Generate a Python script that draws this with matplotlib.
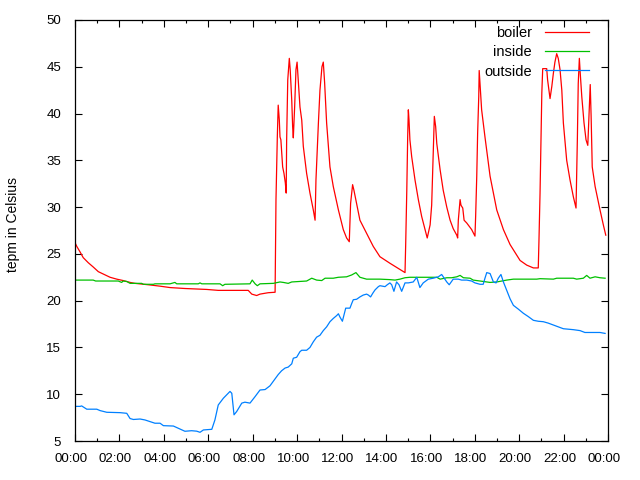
import matplotlib
matplotlib.use("Agg")
import matplotlib.pyplot as plt
import matplotlib.transforms as mtransforms
from matplotlib.ticker import FixedLocator, MultipleLocator

# hours since midnight, temperature in Celsius
boiler_t = [0.00, 0.08, 0.23, 0.37, 0.60, 0.82, 1.05, 1.27, 1.58, 1.88, 2.17, 2.48, 2.70,
            3.30, 3.83, 4.28, 4.95, 5.93, 6.45, 7.80, 7.96, 8.18, 8.33, 8.70, 9.01,
            9.05, 9.11, 9.15, 9.20, 9.23, 9.27, 9.35, 9.41, 9.47, 9.51, 9.53, 9.58,
            9.65, 9.69, 9.76, 9.80, 9.83, 9.89, 9.95, 10.00, 10.05, 10.13, 10.21, 10.28,
            10.43, 10.58, 10.73, 10.81, 10.85, 10.96, 11.03, 11.12, 11.18, 11.24, 11.33,
            11.48, 11.63, 11.86, 12.08, 12.23, 12.35, 12.41, 12.50, 12.56, 12.68, 12.83,
            13.13, 13.43, 13.73, 14.18, 14.86, 14.89, 14.94, 14.98, 15.01, 15.04, 15.08,
            15.16, 15.31, 15.46, 15.61, 15.76, 15.86, 15.99, 16.06, 16.11, 16.18, 16.24,
            16.29, 16.44, 16.58, 16.74, 16.89, 17.03, 17.19, 17.23, 17.26, 17.34, 17.38,
            17.46, 17.52, 17.64, 17.86, 18.01, 18.04, 18.09, 18.13, 18.18, 18.20, 18.31,
            18.46, 18.69, 18.99, 19.29, 19.59, 20.04, 20.34, 20.64, 20.86, 20.89, 20.94,
            20.98, 21.02, 21.06, 21.24, 21.28, 21.34, 21.39, 21.47, 21.54, 21.61, 21.69,
            21.76, 21.84, 21.92, 21.99, 22.14, 22.29, 22.44, 22.56, 22.62, 22.66, 22.71,
            22.75, 22.82, 22.92, 23.01, 23.09, 23.15, 23.20, 23.24, 23.29, 23.42, 23.64,
            23.79, 23.90]
boiler = [26.2, 25.8, 25.2, 24.6, 24.05, 23.6, 23.1, 22.85, 22.5, 22.3, 22.15, 21.95, 21.85,
          21.7, 21.55, 21.4, 21.3, 21.2, 21.1, 21.1, 20.7, 20.55, 20.7, 20.85, 20.9,
          30.8, 37.5, 40.9, 39.3, 37.5, 37.2, 34.3, 33.6, 32.6, 31.5, 37.2, 43.6,
          45.9, 44.7, 41.4, 38.6, 37.4, 40.7, 44.7, 45.5, 43.6, 40.7, 39.3, 36.5,
          33.6, 31.5, 29.7, 28.6, 32.9, 39.0, 42.5, 45.0, 45.5, 43.3, 39.0,
          34.3, 32.2, 29.7, 27.6, 26.7, 26.3, 30.4, 32.4, 31.8, 30.4, 28.6,
          27.2, 25.8, 24.7, 24.0, 23.0, 26.0, 31.8, 37.5, 40.4, 39.3, 37.2,
          35.4, 32.9, 30.8, 29.0, 27.6, 26.7, 28.1, 30.2, 34.3, 39.7, 38.6,
          36.8, 34.0, 31.8, 30.0, 28.6, 27.7, 27.0, 26.7, 28.6, 30.8, 30.2,
          29.9, 28.6, 28.3, 27.6, 26.9, 29.0, 33.3, 37.9, 41.8, 44.6, 40.4,
          37.5, 33.3, 29.7, 27.6, 26.0, 24.3, 23.8, 23.5, 23.5, 26.3, 31.5,
          36.8, 42.2, 44.8, 44.8, 43.6, 42.5, 41.6, 42.9, 44.3, 45.5, 46.4,
          45.9, 44.7, 42.5, 39.0, 35.0, 32.9, 31.1, 29.9, 37.2, 43.2, 45.9,
          44.3, 41.8, 39.0, 37.2, 36.6, 40.0, 43.1, 39.7, 34.3, 32.2, 29.7,
          28.1, 27.0]

inside_t = [0.00, 0.82, 0.93, 1.95, 2.10, 2.17, 2.33, 2.48, 3.00, 3.08, 3.53, 3.60, 4.28,
            4.50, 4.58, 5.55, 5.63, 5.71, 6.53, 6.65, 6.75, 7.88, 7.98, 8.11, 8.21, 8.33,
            8.93, 9.23, 9.38, 9.60, 9.76, 10.43, 10.66, 10.88, 11.11, 11.26, 11.63, 11.86,
            12.23, 12.46, 12.65, 12.83, 13.13, 13.73, 14.18, 14.41, 14.63, 14.86, 15.08,
            16.29, 16.44, 16.74, 16.96, 17.19, 17.34, 17.49, 17.79, 17.93, 18.24, 18.54,
            18.69, 18.99, 19.44, 19.74, 20.79, 20.94, 21.54, 21.69, 22.44, 22.59, 22.89,
            23.04, 23.19, 23.42, 23.64, 23.87]
inside = [22.2, 22.2, 22.1, 22.1, 21.95, 22.1, 22.05, 21.85, 21.85, 21.75, 21.75, 21.8, 21.8,
          21.95, 21.8, 21.8, 21.9, 21.8, 21.8, 21.6, 21.75, 21.8, 22.2, 21.8, 21.6, 21.8,
          21.85, 22.0, 21.95, 21.85, 22.0, 22.1, 22.4, 22.2, 22.15, 22.4, 22.4, 22.5,
          22.55, 22.75, 23.0, 22.5, 22.3, 22.3, 22.25, 22.2, 22.3, 22.45, 22.5,
          22.5, 22.3, 22.45, 22.45, 22.55, 22.7, 22.45, 22.4, 22.2, 22.1, 22.0,
          21.95, 22.0, 22.2, 22.3, 22.3, 22.35, 22.3, 22.4, 22.4, 22.3, 22.4,
          22.7, 22.4, 22.55, 22.45, 22.4]

outside_t = [0.00, 0.23, 0.30, 0.53, 0.98, 1.13, 1.43, 2.03, 2.33, 2.48, 2.63, 2.93, 3.15,
             3.38, 3.60, 3.83, 3.98, 4.43, 4.65, 4.95, 5.25, 5.48, 5.63, 5.78, 6.16, 6.30,
             6.45, 6.68, 6.98, 7.06, 7.16, 7.28, 7.51, 7.65, 7.88, 8.11, 8.33, 8.56, 8.78,
             9.15, 9.30, 9.46, 9.60, 9.76, 9.83, 9.98, 10.13, 10.21, 10.43, 10.58, 10.73,
             10.88, 11.03, 11.18, 11.33, 11.48, 11.63, 11.78, 11.86, 11.93, 12.04, 12.13,
             12.19, 12.38, 12.46, 12.53, 12.68, 12.83, 12.98, 13.13, 13.21, 13.31, 13.41,
             13.51, 13.66, 13.73, 13.96, 14.06, 14.18, 14.26, 14.36, 14.48, 14.59, 14.71,
             14.86, 15.01, 15.23, 15.39, 15.53, 15.68, 15.91, 16.13, 16.36, 16.51, 16.58,
             16.74, 16.85, 17.03, 17.26, 17.41, 17.64, 17.86, 18.01, 18.24, 18.38, 18.46,
             18.54, 18.69, 18.84, 18.96, 19.06, 19.18, 19.29, 19.44, 19.59, 19.74, 19.96,
             20.19, 20.41, 20.64, 20.86, 21.09, 21.31, 21.54, 21.76, 21.99, 22.44, 22.74,
             22.96, 23.64, 23.87]
outside = [8.7, 8.7, 8.75, 8.4, 8.4, 8.25, 8.07, 8.03, 7.96, 7.4, 7.3, 7.35, 7.25,
           7.07, 6.9, 6.9, 6.64, 6.6, 6.36, 6.04, 6.1, 6.05, 5.93, 6.18, 6.25, 7.25,
           8.85, 9.57, 10.3, 10.1, 7.8, 8.15, 9.05, 9.15, 9.05, 9.75, 10.45, 10.5, 10.9,
           12.1, 12.5, 12.8, 12.9, 13.25, 13.85, 13.95, 14.55, 14.7, 14.7, 15.0, 15.6,
           16.1, 16.3, 16.8, 17.2, 17.75, 18.1, 18.4, 18.6, 18.25, 17.8, 18.65,
           19.2, 19.2, 19.7, 20.1, 20.15, 20.4, 20.6, 20.7, 20.6, 20.4, 20.8,
           21.15, 21.5, 21.6, 21.5, 21.7, 21.9, 21.7, 21.0, 22.0, 21.7, 21.0,
           21.9, 21.9, 22.0, 22.5, 21.4, 21.9, 22.3, 22.4, 22.55, 22.8, 22.55,
           22.0, 21.7, 22.3, 22.3, 22.2, 22.2, 22.1, 21.9, 21.75, 21.75, 22.4,
           23.0, 22.9, 22.0, 21.9, 22.4, 22.8, 22.0, 21.1, 20.2, 19.5, 19.1,
           18.65, 18.3, 17.9, 17.8, 17.75, 17.6, 17.4, 17.2, 17.0, 16.9, 16.8,
           16.6, 16.6, 16.5]

hour_ticks = list(range(0, 25, 2))
hour_labels = ["%02d:00" % (h % 24) for h in hour_ticks]

plt.rcParams['font.family'] = ['Liberation Sans', 'DejaVu Sans']
plt.rcParams['font.size'] = 9.5

fig = plt.figure(figsize=(6.4, 4.8), dpi=100)
ax = fig.add_axes([75 / 640, 1 - 441 / 480, 533 / 640, 421 / 480])

ax.plot(boiler_t, boiler, color='#ff0000', lw=0.9, label='boiler')
ax.plot(inside_t, inside, color='#00c000', lw=0.9, label='inside')
ax.plot(outside_t, outside, color='#0080ff', lw=0.9, label='outside')

ax.set_xlim(0, 24)
ax.set_ylim(5, 50)
ax.xaxis.set_major_locator(FixedLocator(hour_ticks))
ax.set_xticklabels(hour_labels)
ax.xaxis.set_minor_locator(MultipleLocator(1))
ax.yaxis.set_major_locator(MultipleLocator(5))

ax.tick_params(which='both', direction='in', top=True, right=True, color='black', width=0.8)
ax.tick_params(which='major', length=5)
ax.tick_params(which='minor', length=2.5)
ax.tick_params(axis='x', which='major', pad=9)
ax.tick_params(axis='y', which='major', pad=10)
for s in ax.spines.values():
    s.set_linewidth(0.9)

# gnuplot puts the time labels a little left of their ticks
shift = mtransforms.ScaledTranslation(-4 / 100, 0, fig.dpi_scale_trans)
for lbl in ax.get_xticklabels():
    lbl.set_transform(lbl.get_transform() + shift)

fig.text(13 / 640, 1 - 224 / 480, 'tepm in Celsius', rotation=90, ha='center', va='center',
         fontsize=10)

ax.legend(loc='upper right', bbox_to_anchor=((589 - 75) / 533, (441 - 26) / 421),
          markerfirst=False, frameon=False, fontsize=10.5, handlelength=3.0,
          handletextpad=0.9, labelspacing=0.36, borderaxespad=0, borderpad=0)

fig.savefig('out.png', dpi=100)
